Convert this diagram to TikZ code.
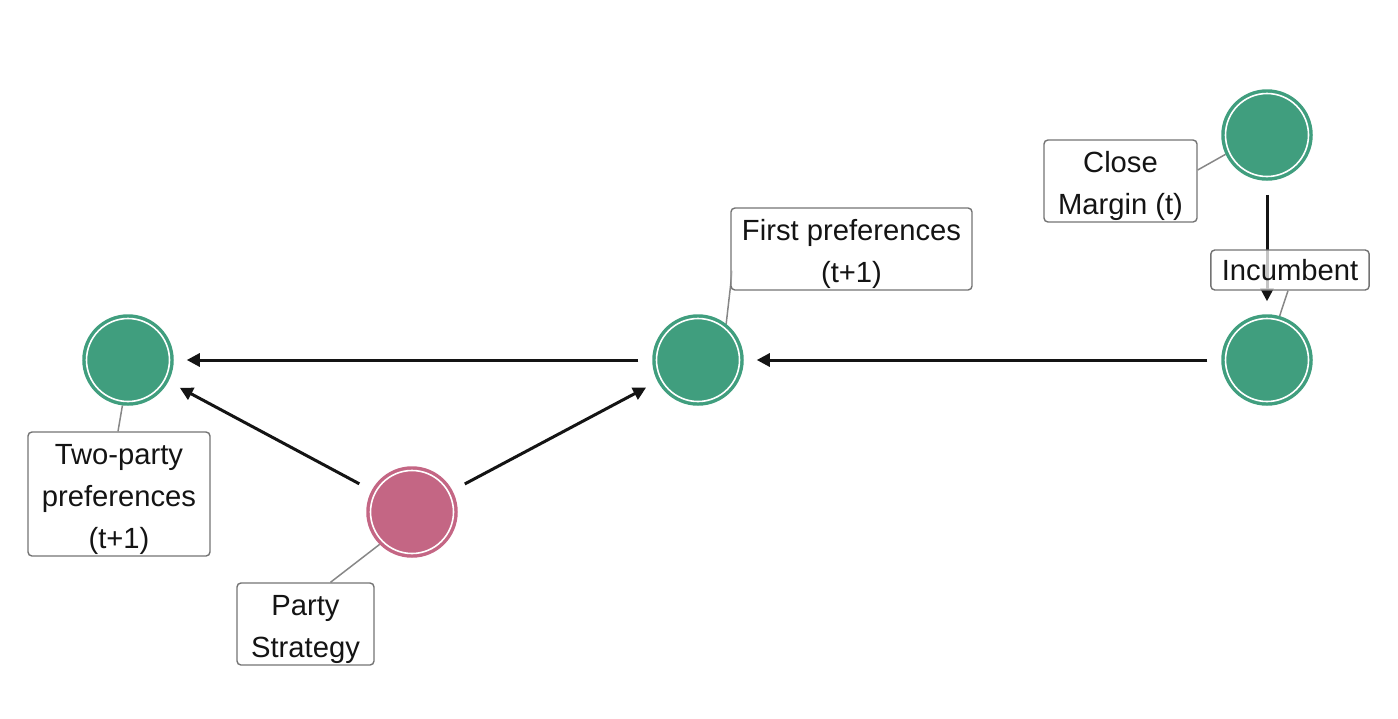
\documentclass[tikz,border=0pt]{standalone}
\usepackage{fontspec}
\setmainfont{Liberation Sans}
\usetikzlibrary{arrows.meta, backgrounds}
\definecolor{Jade}{RGB}{64, 158, 126}
\definecolor{Mauve}{RGB}{196, 102, 132}
\definecolor{Ink}{RGB}{20, 20, 20}
\definecolor{Slate}{RGB}{135, 135, 135}
\newcommand{\tagstrut}{\rule{0pt}{31pt}}

\tikzset{
  factor/.style={circle, minimum size=90pt, inner sep=0pt, fill=#1, draw=#1, line width=1.5pt,
    path picture={\draw[white, line width=1.6pt] (path picture bounding box.center) circle (41.5pt);}},
  tag/.style={draw=Slate!85!black, line width=1.4pt, rounded corners=4pt, fill=white, fill opacity=0.75,
    text opacity=1, text=Ink, align=center, inner xsep=11pt, inner ysep=0pt,
    font=\fontsize{29.2}{42}\selectfont},
  effect/.style={-{Triangle[length=13pt, width=13pt]}, Ink, line width=3pt,
    shorten <=14pt, shorten >=13pt},
  pin/.style={Slate, line width=1.5pt}
}

\begin{document}
\begin{tikzpicture}[x=1pt, y=-1pt]
\useasboundingbox (0,0) rectangle (1398,718);

% Variables
\node[factor=Jade] (twoparty) at (128,360) {};
\node[factor=Jade] (firstpref) at (698,360) {};
\node[factor=Jade] (incumbent) at (1267,360) {};
\node[factor=Jade] (margin) at (1267,135) {};
\node[factor=Mauve] (strategy) at (412,512) {};

% Labels
\node[tag, minimum height=124pt, minimum width=182pt] (twolab) at (119,494) {\tagstrut Two-party\\preferences\\(t+1)};
\node[tag, minimum height=82pt, minimum width=137pt] (partylab) at (305.5,624) {\tagstrut Party\\Strategy};
\node[tag, minimum height=82pt, minimum width=241pt] (firstlab) at (851.5,249) {\tagstrut First preferences\\(t+1)};
\node[tag, minimum height=82pt, minimum width=153pt] (marginlab) at (1120.5,181) {\tagstrut Close\\Margin (t)};
\node[tag, minimum height=40pt, minimum width=156pt] (inclab) at (1290,270) {Incumbent};

\begin{scope}[on background layer]
% Effects
\draw[effect] (firstpref) -- (twoparty);
\draw[effect] (strategy) -- (twoparty);
\draw[effect] (strategy) -- (firstpref);
\draw[effect] (incumbent) -- (firstpref);
\draw[effect] (margin) -- (incumbent);

% Label pins
\draw[pin] (twoparty.-97) -- ([xshift=-1pt]twolab.north);
\draw[pin] (strategy.-135) -- ([xshift=25pt]partylab.north);
\draw[pin] (firstpref.52) -- ([xshift=2pt, yshift=20pt]firstlab.south west);
\draw[pin] (margin.-155) -- ([yshift=11pt]marginlab.east);
\draw[pin] (incumbent.74) -- ([xshift=-2pt]inclab.south);
\end{scope}

\end{tikzpicture}
\end{document}
